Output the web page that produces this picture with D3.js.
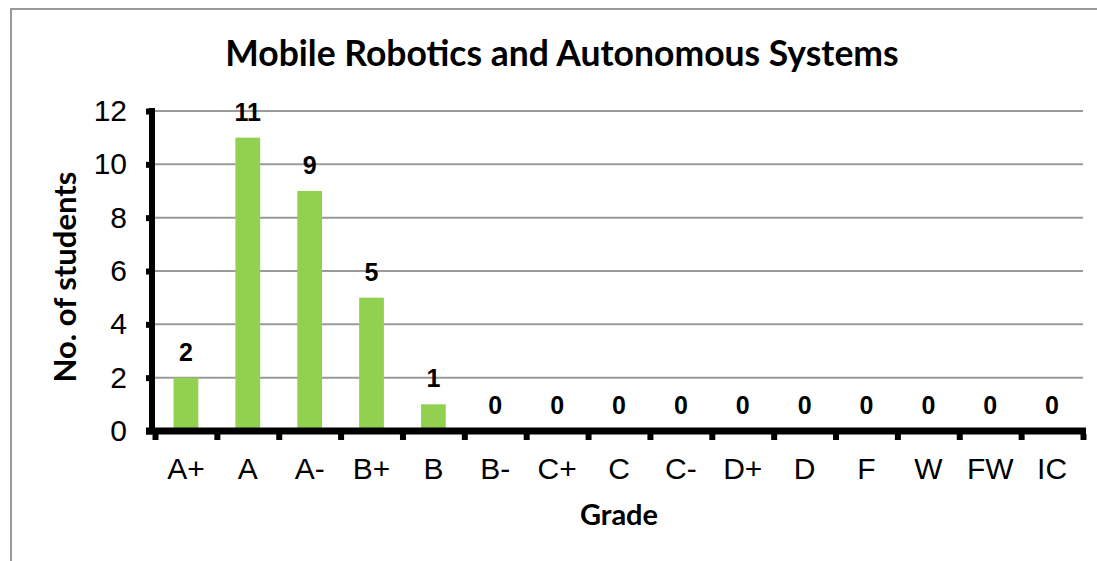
<!DOCTYPE html>
<html>
<head>
<meta charset="utf-8">
<script src="https://cdn.jsdelivr.net/npm/d3@7"></script>
<style>
  body { margin: 0; background: #fff; }
  svg { display: block; }
</style>
</head>
<body>
<svg id="chart"></svg>
<script>
// data
const grades = ["A+", "A", "A-", "B+", "B", "B-", "C+", "C", "C-", "D+", "D", "F", "W", "FW", "IC"];
const students = [2, 11, 9, 5, 1, 0, 0, 0, 0, 0, 0, 0, 0, 0, 0];
const yTicks = [0, 2, 4, 6, 8, 10, 12];

const chartTitle = "Mobile Robotics and Autonomous Systems";
const xTitle = "Grade";
const yTitle = "No. of students";

// layout
const W = 1097, H = 561;
const plot = {left: 155, right: 1083, top: 111, bottom: 431};

const svg = d3.select('#chart')
    .attr('width', W)
    .attr('height', H);

// outer chart border (runs off the right and bottom edges)
svg.append('rect')
    .attr('x', 11)
    .attr('y', 9)
    .attr('width', 1200)
    .attr('height', 700)
    .attr('fill', 'none')
    .attr('stroke', '#999')
    .attr('stroke-width', 2);

const x = d3.scaleBand()
    .domain(grades)
    .range([plot.left, plot.right])
    .padding(0);

const y = d3.scaleLinear()
    .domain([0, 12])
    .range([plot.bottom, plot.top]);

// gridlines
svg.append('g')
    .selectAll('line')
    .data(yTicks.filter(d => d > 0))
    .enter()
    .append('line')
    .attr('x1', plot.left)
    .attr('x2', plot.right)
    .attr('y1', d => y(d))
    .attr('y2', d => y(d))
    .attr('stroke', '#9a9a9a')
    .attr('stroke-width', 2);

// bars
svg.append('g')
    .selectAll('rect')
    .data(students)
    .enter()
    .append('rect')
    .attr('x', (d, i) => x(grades[i]) + x.bandwidth() * 0.3)
    .attr('y', d => y(d))
    .attr('width', x.bandwidth() * 0.4)
    .attr('height', d => y(0) - y(d))
    .attr('fill', '#92d050');

// value labels
svg.append('g')
    .selectAll('text')
    .data(students)
    .enter()
    .append('text')
    .attr('x', (d, i) => x(grades[i]) + x.bandwidth() / 2)
    .attr('y', d => y(d) - 17)
    .attr('text-anchor', 'middle')
    .style('font-family', 'Liberation Sans, Arial, sans-serif')
    .style('font-weight', 'bold')
    .style('font-size', '25px')
    .text(d => d);

// Y axis
const yAxis = svg.append('g')
    .attr('transform', 'translate(' + (plot.left - 3) + ',0)')
    .call(d3.axisLeft(y).tickValues(yTicks).tickSize(6).tickPadding(19));
yAxis.select('.domain')
    .attr('d', 'M0,' + (plot.top - 3) + 'V' + (plot.bottom + 3))
    .attr('stroke', '#000')
    .attr('stroke-width', 6);
yAxis.selectAll('.tick line')
    .attr('stroke', '#000')
    .attr('stroke-width', 6);
yAxis.selectAll('.tick text')
    .style('font-family', 'Liberation Sans, Arial, sans-serif')
    .style('font-size', '30px')
    .attr('fill', '#000');

// X axis: ticks at category boundaries, labels at band centres
const xEdges = d3.scaleLinear().domain([0, grades.length]).range([plot.left, plot.right]);
const xAxis = svg.append('g')
    .attr('transform', 'translate(0,' + (plot.bottom + 3) + ')')
    .call(d3.axisBottom(xEdges).tickValues(d3.range(grades.length + 1)).tickSize(6).tickFormat(''));
xAxis.select('.domain')
    .attr('d', 'M' + (plot.left - 9) + ',-3H' + (plot.right + 3))
    .attr('stroke', '#000')
    .attr('stroke-width', 7);
xAxis.selectAll('.tick line')
    .attr('stroke', '#000')
    .attr('stroke-width', 6);

svg.append('g')
    .selectAll('text')
    .data(grades)
    .enter()
    .append('text')
    .attr('x', d => x(d) + x.bandwidth() / 2)
    .attr('y', 479)
    .attr('text-anchor', 'middle')
    .style('font-family', 'Liberation Sans, Arial, sans-serif')
    .style('font-size', '30px')
    .text(d => d);

// titles
svg.append('text')
    .attr('x', 562)
    .attr('y', 66)
    .attr('text-anchor', 'middle')
    .style('font-family', 'Lato, sans-serif')
    .style('font-weight', 'bold')
    .style('font-size', '35.5px')
    .text(chartTitle);

svg.append('text')
    .attr('x', 619)
    .attr('y', 525)
    .attr('text-anchor', 'middle')
    .style('font-family', 'Lato, sans-serif')
    .style('font-weight', 'bold')
    .style('font-size', '29px')
    .text(xTitle);

svg.append('text')
    .attr('transform', 'translate(76,277) rotate(-90)')
    .attr('text-anchor', 'middle')
    .style('font-family', 'Lato, sans-serif')
    .style('font-weight', 'bold')
    .style('font-size', '31px')
    .text(yTitle);
</script>
</body>
</html>
